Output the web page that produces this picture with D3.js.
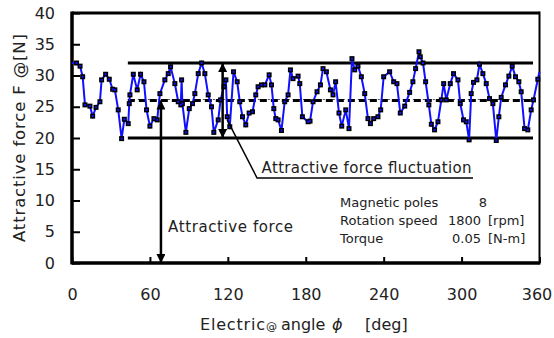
<!DOCTYPE html>
<html>
<head>
<meta charset="utf-8">
<script src="https://cdn.jsdelivr.net/npm/d3@7"></script>
<style>
  body { margin: 0; background: #fff; }
  text { font-family: "DejaVu Sans", Verdana, sans-serif; fill: #222; }
</style>
</head>
<body>
<svg id="chart"></svg>
<script>
// Dimensions
var width = 554, height = 338;

// Data: electric angle [deg] and attractive force [N]
var angles = [0, 3.5, 6.2, 8.2, 10, 13.8, 15.9, 18.5, 21.5, 22.8, 25.9, 28.7, 31.3, 33, 35.6, 38.2, 40.3, 43.3, 44.1, 44.6,
  47.2, 50.2, 52.8, 55.4, 57.4, 60, 63.1, 65.6, 67.7, 71.5, 74.1, 75.9, 79.2, 81.8, 83.8, 84.4, 85, 87.7, 90.3, 92.8,
  94.6, 97.2, 99.8, 102.3, 104.9, 107.4, 109.2, 112.6, 114.4, 117, 118.5, 119.5, 121.5, 124.4, 127.2, 129.2, 131.3, 133.8, 136.4, 139,
  141.5, 143.3, 145.9, 148.5, 151.8, 153.6, 155.4, 156.9, 158.7, 161.3, 163.8, 166.4, 168.2, 170.2, 174.1, 175.4, 177.4, 181.8, 183.3, 185.6,
  188.7, 191.3, 193.3, 195.9, 199, 201, 203, 205.6, 207.7, 210.8, 213.3, 215.6, 217.7, 220.2, 222.8, 225.4, 227.9, 229.8, 232.3, 235.6,
  237.7, 240, 244.6, 247.7, 250.2, 252.8, 256.2, 260, 262.5, 264.6, 267.2, 268.2, 270.3, 272.3, 274.8, 276.7, 279.2, 281.8, 284.4, 286.2,
  288.2, 291.3, 293.8, 297.2, 299, 301.5, 303.6, 305.8, 307.4, 309.2, 311.8, 313.8, 316.4, 319, 321.5, 324.1, 326.7, 328.7, 330.5, 333.8,
  336.4, 339, 341.5, 344.1, 345.9, 348.5, 351, 353.6, 355.4, 358.7, 360];
var forces = [32, 32, 31.5, 29.8, 25.3, 25.1, 23.5, 24.9, 25.8, 29.3, 30.2, 29.4, 27.8, 27.7, 24.5, 19.9, 23, 22.3, 25.5, 26.9,
  30.2, 27.7, 30.2, 29, 24.5, 21.9, 23.1, 22.9, 27.1, 29.3, 30.3, 31.4, 28.7, 25.8, 25.3, 29.3, 25.5, 20.9, 24.7, 25.5,
  27.1, 30.3, 32, 30.3, 26.9, 25, 20.9, 22.9, 26.1, 28.2, 29.3, 23.4, 21.8, 30.6, 29, 25.8, 23.4, 22.1, 24, 24.2,
  26.9, 28.2, 28.5, 28.5, 30.1, 28.5, 24.7, 23.1, 22.9, 21.2, 25.8, 26.9, 30.9, 29.5, 29.9, 28.7, 23.4, 22.6, 22.7, 25.8,
  27.4, 28.5, 31.1, 30.6, 27.7, 26.9, 29, 24, 21.9, 24.5, 21.5, 32.7, 30.9, 31.5, 29.8, 27.1, 23.1, 22.3, 23.1, 23.4,
  24.5, 29.8, 30.6, 29, 28.7, 24, 25.1, 27.3, 29, 31.1, 33.8, 33, 32, 29, 25.3, 22.2, 21.3, 22.6, 26.1, 28.7,
  26.1, 28.7, 30.3, 29.3, 25.5, 22.9, 22.6, 19.7, 27.1, 28.9, 29.3, 31.8, 30.3, 28.7, 26.3, 25.5, 19.6, 23.4, 26.5, 28.5,
  29.9, 31.5, 29.8, 29, 27.4, 21.5, 21.3, 24.5, 26.1, 29.4, 30.6];

// Reference levels [N] and their angle span [deg]
var maxLevel = 32, minLevel = 20, meanLevel = 26;
var levelSpan = [43, 355];
// Arrows: angle, from, to
var fluctArrow = [116, 32, 20];
var forceArrow = [68.5, 26, 0];

var xTicks = [0, 60, 120, 180, 240, 300, 360];
var yTicks = [0, 5, 10, 15, 20, 25, 30, 35, 40];
var infoRows = [["Magnetic poles", "8", ""], ["Rotation speed", "1800", "[rpm]"], ["Torque", "0.05", "[N-m]"]];

var x = d3.scaleLinear().domain([0, 360]).range([72, 539.5]);
var y = d3.scaleLinear().domain([0, 40]).range([263, 13]);

var svg = d3.select("#chart").attr("width", width).attr("height", height);

// arrowhead
var defs = svg.append("defs");
defs.append("marker").attr("id", "head")
  .attr("viewBox", "0 0 10 10").attr("refX", 10).attr("refY", 5)
  .attr("markerWidth", 10).attr("markerHeight", 9).attr("markerUnits", "userSpaceOnUse")
  .attr("orient", "auto-start-reverse")
  .append("path").attr("d", "M0,0L10,5L0,10Z").attr("fill", "#000");

// Axes (ticks inwards)
var xAxis = svg.append("g").attr("transform", "translate(0," + y(0) + ")")
  .call(d3.axisBottom(x).tickValues(xTicks).tickSize(-6).tickPadding(26));
var yAxis = svg.append("g").attr("transform", "translate(" + x(0) + ",0)")
  .call(d3.axisLeft(y).tickValues(yTicks).tickSize(-8).tickPadding(17));
[xAxis, yAxis].forEach(function(a) {
  a.select(".domain").remove();
  a.selectAll("line").attr("stroke", "#000").attr("stroke-width", 2);
  a.selectAll("text").style("font-size", "16px").attr("fill", "#222")
    .style("font-family", "'DejaVu Sans', Verdana, sans-serif");
});
// keep the last x label inside the window
xAxis.selectAll("text").filter(d => d === 360).attr("dx", -3);

// Frame
svg.append("line").attr("x1", x(0)).attr("x2", x(360)).attr("y1", y(40)).attr("y2", y(40))
  .attr("stroke", "#000").attr("stroke-width", 3);
svg.append("line").attr("x1", x(0)).attr("x2", x(360)).attr("y1", y(0)).attr("y2", y(0))
  .attr("stroke", "#000").attr("stroke-width", 3.5);
svg.append("line").attr("x1", x(0)).attr("x2", x(0)).attr("y1", y(40) - 1.5).attr("y2", y(0) + 1.5)
  .attr("stroke", "#000").attr("stroke-width", 3.5);
svg.append("line").attr("x1", x(360)).attr("x2", x(360)).attr("y1", y(40) - 1.5).attr("y2", y(0) + 1.5)
  .attr("stroke", "#000").attr("stroke-width", 2);

// Max / min levels
[maxLevel, minLevel].forEach(function(v) {
  svg.append("line").attr("x1", x(levelSpan[0])).attr("x2", x(levelSpan[1]))
    .attr("y1", y(v)).attr("y2", y(v)).attr("stroke", "#000").attr("stroke-width", 3);
});
// Mean level
svg.append("line").attr("x1", x(levelSpan[0])).attr("x2", x(levelSpan[1]))
  .attr("y1", y(meanLevel) - 1).attr("y2", y(meanLevel) - 1)
  .attr("stroke", "#555").attr("stroke-width", 1).attr("stroke-dasharray", "2,3");
svg.append("line").attr("x1", x(levelSpan[0])).attr("x2", x(levelSpan[1]))
  .attr("y1", y(meanLevel)).attr("y2", y(meanLevel))
  .attr("stroke", "#000").attr("stroke-width", 3).attr("stroke-dasharray", "7,4");

// Series
var pts = angles.map(function(a, i) { return [a, forces[i]]; });
svg.append("path").datum(pts)
  .attr("d", d3.line().x(d => x(d[0])).y(d => y(d[1])))
  .attr("fill", "none").attr("stroke", "#1010ff").attr("stroke-width", 2);
svg.selectAll(".pt").data(pts.slice(1, -1)).enter().append("rect").attr("class", "pt")
  .attr("x", d => x(d[0]) - 2.5).attr("y", d => y(d[1]) - 2.5)
  .attr("width", 5).attr("height", 5).attr("fill", "#000");
svg.selectAll(".ptc").data(pts.slice(1, -1)).enter().append("rect").attr("class", "ptc")
  .attr("x", d => x(d[0]) - 1).attr("y", d => y(d[1]) - 1)
  .attr("width", 2).attr("height", 2).attr("fill", "#1010ff");

// Arrows
[fluctArrow, forceArrow].forEach(function(a) {
  svg.append("line").attr("x1", x(a[0])).attr("x2", x(a[0]))
    .attr("y1", y(a[1])).attr("y2", y(a[2]))
    .attr("stroke", "#000").attr("stroke-width", 2.5)
    .attr("marker-start", "url(#head)").attr("marker-end", "url(#head)");
});

// Leader for the fluctuation label
svg.append("path")
  .attr("d", "M" + x(119.5) + "," + y(22.9) + "L" + x(142.5) + "," + y(13.6) + "L" + x(308.8) + "," + y(13.6))
  .attr("fill", "none").attr("stroke", "#000").attr("stroke-width", 1.5);
svg.append("text").attr("x", x(146)).attr("y", y(13.6) - 5)
  .style("font-size", "15px").attr("textLength", 210).text("Attractive force fluctuation");
svg.append("text").attr("x", x(74)).attr("y", y(5))
  .style("font-size", "15px").attr("textLength", 125).text("Attractive force");

// Operating conditions
var info = svg.append("g").style("font-size", "13px");
infoRows.forEach(function(r, i) {
  var yy = 207 + i * 18;
  info.append("text").attr("x", 340).attr("y", yy).text(r[0]);
  info.append("text").attr("x", r[2] ? 481 : 487).attr("y", yy).attr("text-anchor", "end").text(r[1]);
  info.append("text").attr("x", 488).attr("y", yy).text(r[2]);
});

// Axis titles
var xt = svg.append("text").attr("y", 330).style("font-size", "16px");
xt.append("tspan").attr("x", 200).attr("textLength", 65).text("Electric");
xt.append("tspan").attr("x", 266).style("font-size", "11px").text("@");
xt.append("tspan").attr("x", 281).text("angle");
xt.append("tspan").attr("x", 332).style("font-style", "italic").text("\u03D5");
xt.append("tspan").attr("x", 365).text("[deg]");

svg.append("text").attr("transform", "translate(25,138) rotate(-90)")
  .attr("text-anchor", "middle").style("font-size", "16.5px")
  .attr("textLength", 208).text("Attractive force F @[N]");
</script>
</body>
</html>
